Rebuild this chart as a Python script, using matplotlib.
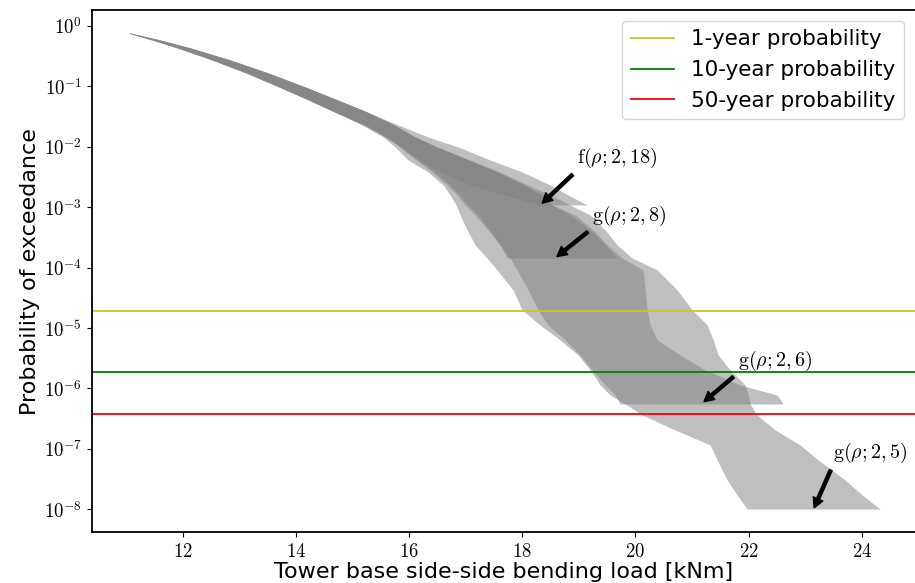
import matplotlib
matplotlib.use("Agg")
import matplotlib.pyplot as plt
from matplotlib.ticker import NullLocator

plt.rcParams['mathtext.fontset'] = 'cm'
plt.rcParams['font.family'] = ['DejaVu Sans']

# Exceedance probability levels (shared by all bands, top -> bottom)
p_levels = [0.766, 0.586, 0.432, 0.274, 0.167, 0.0977, 0.0596, 0.0377, 0.0230,
            0.0145, 0.00993, 0.00605, 0.00383, 0.00233, 0.00159, 0.00109,
            7.43e-4, 4.20e-4, 2.37e-4, 1.44e-4, 9.14e-5, 4.26e-5, 1.99e-5,
            1.12e-5, 6.34e-6, 3.58e-6, 2.02e-6, 1.14e-6, 7.79e-7, 5.53e-7,
            3.64e-7, 2.05e-7, 1.16e-7, 6.54e-8, 3.05e-8, 1.72e-8, 1.01e-8]

# common upper part of all bands (load, kNm)
top_lo = [11.033, 11.458, 11.908, 12.518, 13.119, 13.702, 14.223, 14.683]
top_hi = [11.069, 11.599, 12.138, 12.836, 13.508, 14.162, 14.736, 15.257]

# f(rho; 2, 18)
f18_lo = [15.187, 15.593, 15.876, 16.194, 16.548, 17.078, 17.696, 18.315]
f18_hi = [15.805, 16.336, 16.866, 17.431, 17.997, 18.492, 18.810, 19.146]

# g(rho; 2, 8)
g8_lo = [15.222, 15.593, 15.840, 16.124, 16.406, 16.672, 16.848, 16.990,
         17.166, 17.396, 17.608, 17.732]
g8_hi = [15.735, 16.106, 16.495, 17.042, 17.555, 18.032, 18.350, 18.527,
         18.845, 19.199, 19.465, 19.676]

# g(rho; 2, 6)
g6_lo = [15.222, 15.593, 15.840, 16.159, 16.459, 16.724, 16.901, 17.043,
         17.219, 17.431, 17.608, 17.785, 17.908, 18.103, 18.280, 18.456,
         18.757, 19.022, 19.234, 19.465, 19.641, 19.730]
g6_hi = [15.735, 16.106, 16.495, 17.042, 17.555, 18.032, 18.350, 18.527,
         18.933, 19.252, 19.500, 19.765, 20.136, 20.172, 20.207, 20.260,
         20.384, 20.790, 21.232, 21.850, 22.504, 22.610]

# g(rho; 2, 5)
g5_lo = [15.169, 15.540, 15.752, 15.982, 16.336, 16.601, 16.724, 16.831,
         16.901, 17.025, 17.166, 17.378, 17.555, 17.838, 17.997, 18.315,
         18.668, 18.987, 19.199, 19.376, 19.553, 19.818, 20.119, 20.702,
         21.321, 21.443, 21.620, 21.797, 21.973]
g5_hi = [15.735, 16.106, 16.495, 17.078, 17.608, 18.103, 18.492, 18.845,
         19.199, 19.465, 19.676, 19.942, 20.384, 20.737, 21.002, 21.268,
         21.374, 21.461, 21.673, 21.938, 21.991, 22.027, 22.150, 22.469,
         22.911, 23.229, 23.706, 24.007, 24.325]

band_lo = [f18_lo, g8_lo, g6_lo, g5_lo]
band_hi = [f18_hi, g8_hi, g6_hi, g5_hi]

# reference probability lines
ref_labels = ['1-year probability', '10-year probability', '50-year probability']
ref_values = [1.9e-5, 1.9e-6, 3.8e-7]
ref_colors = ['#c8c81e', 'green', 'red']

# annotations: label, arrow target (load, prob), text anchor (load, prob)
ann_labels = [r'$\mathrm{f}(\rho;2,18)$', r'$\mathrm{g}(\rho;2,8)$',
              r'$\mathrm{g}(\rho;2,6)$', r'$\mathrm{g}(\rho;2,5)$']
ann_xy = [(18.32, 1.09e-3), (18.58, 1.44e-4), (21.18, 5.7e-7), (23.14, 9.7e-9)]
ann_text = [(18.97, 4.1e-3), (19.24, 4.5e-4), (21.81, 1.8e-6), (23.49, 5.4e-8)]

xticks = [12, 14, 16, 18, 20, 22, 24]
yticks = [1e0, 1e-1, 1e-2, 1e-3, 1e-4, 1e-5, 1e-6, 1e-7, 1e-8]
ytick_labels = [r'$10^{0}$', r'$10^{-1}$', r'$10^{-2}$', r'$10^{-3}$', r'$10^{-4}$',
                r'$10^{-5}$', r'$10^{-6}$', r'$10^{-7}$', r'$10^{-8}$']

fig = plt.figure(figsize=(9.15, 5.83), dpi=100)
ax = fig.add_axes([0.1002, 0.087, 0.8998, 0.8959])

for lo, hi in zip(band_lo, band_hi):
    n = len(top_lo) + len(lo)
    ax.fill_betweenx(p_levels[:n], top_lo + lo, top_hi + hi,
                     color='grey', alpha=0.5, linewidth=0)

for lab, val, col in zip(ref_labels, ref_values, ref_colors):
    ax.axhline(val, color=col, lw=1.3, label=lab)

for lab, xy, xt in zip(ann_labels, ann_xy, ann_text):
    ax.annotate(lab, xy=xy, xytext=xt, ha='left', va='bottom', fontsize=14.5,
                arrowprops=dict(facecolor='black', edgecolor='black',
                                width=2.2, headwidth=7.5, headlength=7, shrink=0.05))

ax.set_yscale('log')
ax.set_xlim(10.39, 24.94)
ax.set_ylim(4.16e-9, 1.84)
ax.set_xticks(xticks, labels=[rf'${t}$' for t in xticks])
ax.set_yticks(yticks, labels=ytick_labels)
ax.yaxis.set_minor_locator(NullLocator())
ax.tick_params(labelsize=13.5)
ax.spines['right'].set_visible(False)
for s in ['left', 'bottom', 'top']:
    ax.spines[s].set_linewidth(1.3)

ax.set_xlabel('Tower base side-side bending load [kNm]', fontsize=16, labelpad=1)
ax.set_ylabel('Probability of exceedance', fontsize=16, labelpad=3)
ax.legend(loc='upper right', fontsize=15.5, handlelength=2.0)

fig.savefig('out.png', dpi=100)
